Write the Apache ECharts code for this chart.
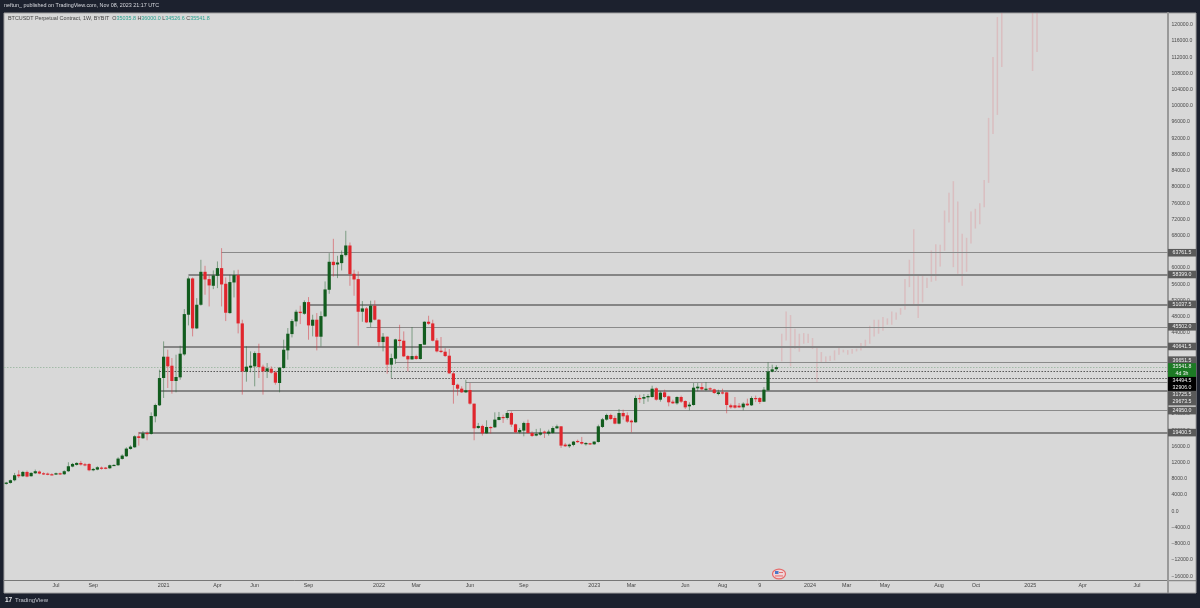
<!DOCTYPE html>
<html>
<head>
<meta charset="utf-8">
<style>html,body{margin:0;padding:0;background:#1c212e}#c{width:1200px;height:608px}</style>
<script src="https://cdn.jsdelivr.net/npm/echarts@6/dist/echarts.min.js"></script>
</head>
<body>
<div id="c"></div>
<script>
const openPrices = [
6750,6990,7650,9050,8640,9700,8640,9370,9790,9370,
9290,9130,9050,9370,9130,9870,11020,11430,11920,11590,
11670,10110,10280,10770,10770,10610,11260,11350,12910,13560,
15370,15780,18490,18000,19310,19070,23420,26130,32860,38120,
35900,32120,33030,38690,48470,57420,45100,50930,59060,57260,
55610,58080,59970,56110,48880,56430,58240,46330,34420,35410,
35740,39020,35660,34510,35160,34260,31630,35330,39680,43700,
46830,49210,48710,51590,45760,47240,43050,48060,54630,61530,
60870,61200,63170,65550,58570,57260,49210,50030,46580,50690,
47240,41730,43050,36150,37630,42310,42060,38280,37460,38280,
37550,41080,46740,46330,42140,39600,39350,38370,34010,31220,
30240,29330,29910,26540,20540,21040,19230,20790,20710,22520,
23250,23010,24240,21450,19480,19890,21780,19310,18660,18900,
19640,19150,19310,20460,20950,16440,16030,16360,17340,17090,
16520,16770,16520,17090,20790,22600,23750,23010,21610,24240,
23660,22350,21940,27930,27770,28100,28180,30320,27520,29330,
28340,27030,26620,28180,27190,25880,26210,30320,30640,29990,
30320,30070,28920,29330,29330,26130,26130,26040,25630,26540,
26130,27930,27930,27030,29820,34420,35035.8];
const highPrices = [
7240,7810,9460,10110,9950,10030,9620,10280,10030,9620,
9540,9370,9540,9540,10110,12080,11920,12080,12410,11920,
11840,10690,11100,11020,10930,11510,11590,13320,14060,15780,
16270,18740,19560,19800,19720,24400,26540,34920,41900,39840,
37790,38610,40830,49860,57910,57670,52570,62020,60540,58320,
59390,61610,64890,57670,58320,59390,59560,47240,40670,39430,
39430,41320,36150,36560,35740,34670,35570,42310,45180,47400,
49700,50690,52000,52820,48470,48880,49290,56680,63660,67190,
63010,64320,69170,66290,59560,59150,51840,50360,51920,52000,
47400,43950,43130,38860,42550,46000,44360,38530,45430,38610,
41240,46830,48220,47240,42720,42970,40260,40010,34510,31470,
30810,32450,31630,26540,21780,21370,22430,20950,24400,24490,
23830,24650,24650,21610,20540,22100,22600,19720,20300,20460,
19890,20130,20950,21370,20950,16850,16680,17340,17670,18330,
17010,16850,17260,21360,23010,24070,24070,23580,25220,25060,
24400,22600,28510,28760,28920,28920,30970,30560,29580,29990,
28510,27520,28340,28510,27360,26870,31630,31630,31630,31880,
30560,30230,29990,30230,29410,26540,28180,26700,26870,27770,
28340,28510,28180,30640,36720,36150,36000];
const lowPrices = [
6580,6830,7400,8220,8470,8390,8550,9210,9130,8960,
8880,8880,8960,8960,8960,9700,10850,11260,11260,11100,
9870,9870,10110,10280,10360,10440,11180,11180,12740,13400,
15210,15620,16190,17830,17510,18900,21940,25960,27940,30400,
29000,29330,32450,38370,45840,43130,44940,50690,53400,50520,
54790,55040,50520,46910,48710,52740,43870,28760,31960,34260,
30810,32860,28760,32860,33930,31220,29330,35160,37380,42880,
45590,46170,48470,42310,43130,39680,40670,47890,53640,57910,
57500,59390,62840,55610,53150,40830,46740,46420,45430,47070,
40670,39430,33930,32860,36310,40670,38040,34510,37380,37380,
37380,41080,46000,41900,39190,39020,38040,33930,26540,28510,
29170,29170,26290,17510,20300,18660,19150,19150,20540,22430,
21780,22600,20790,19310,19150,18490,19150,18330,18490,18660,
18080,18660,19150,20300,15620,15860,15620,16030,16850,16440,
16190,16360,16360,16930,20540,22350,22510,21450,21450,22600,
21770,19470,21860,26700,26460,27030,28020,27280,27030,27930,
25880,26460,26290,26700,25220,24890,26040,29580,29820,29660,
29740,28920,28590,28840,24160,25310,25310,25470,24890,25960,
25960,26950,26460,26950,29740,34260,34526.6];
const closePrices = [
7070,7650,8880,8640,9700,8550,9460,9870,9290,9130,
9050,8960,9370,9130,9870,11100,11670,11920,11510,11430,
10110,10440,10850,10520,10610,11350,11430,12990,13730,15450,
15940,18490,18080,19230,19070,23500,26210,32860,38120,35740,
32120,33110,38860,48630,57420,45100,50930,59060,57170,55700,
58160,59970,55940,48960,56520,58240,46330,34510,35660,35900,
39020,35570,34510,35250,34180,31710,35410,39840,43790,46910,
49210,48880,51590,45840,47240,43050,48140,54710,61530,60710,
61360,63250,65550,58490,57170,49210,50030,46580,50690,47240,
41730,43050,36150,37790,42390,41980,38200,37460,38280,37550,
41240,46740,46250,42060,39430,39270,38280,34010,31140,30240,
29330,29820,26540,20460,21040,19230,20790,20540,22600,23250,
23010,24240,21370,19480,20050,21780,19310,18570,19070,19390,
19390,19640,20540,20950,16190,16030,16440,17180,17090,16680,
16850,16520,17180,20950,22680,23750,22760,21610,24240,23420,
22100,21940,27930,27690,28180,28430,30230,27520,29250,28180,
26870,26620,28180,27030,25630,26290,30480,30730,30070,30230,
30070,29170,29330,29080,26210,25630,25550,25630,26540,26130,
27930,27770,26950,29990,34500,35000,35541.8];

// Projected (ghost) bars after the live candles; the ones above the visible range stay null.
const ghostLow = [
36970,42140,35740,40090,39350,41320,41490,40010,31630,36560,
36560,37050,37220,38610,39190,38610,38860,39430,39680,40500,
41320,43130,43790,44530,46000,46000,47240,48470,49700,55290,
51100,47650,51510,55040,56600,56850,60380,64240,71220,60210,
58570,55610,59060,66040,69740,70810,75000,80990,93070,97750,
109570,null,null,null,null,null,null,108590,113270];
const ghostHigh = [
43790,49290,48390,45020,43790,43950,43790,42720,40670,39270,
38200,38370,39680,40670,39840,39760,40010,40090,41490,42310,
45760,47240,47240,47890,47570,49290,49040,50110,57260,62020,
69580,58320,58320,57590,64320,65880,65720,74180,78530,81410,
76390,68430,67440,73930,74590,75980,81730,97010,112040,121890,
135000,null,null,null,null,null,null,135000,130000];
const ghostFirstWeek = 187.3;
const ghostWeekStep = 1.063;

const xTickWeeks  = [12,21,38,51,60,73,90,99,112,125,142,151,164,173,182,194.1,203,212.2,225.3,234.2,247.3,260,273.1];
const xTickLabels = ['Jul','Sep','2021','Apr','Jun','Sep','2022','Mar','Jun','Sep','2023','Mar','Jun','Aug','9','2024','Mar','May','Aug','Oct','2025','Apr','Jul'];
const yTicks = [-16000,-12000,-8000,-4000,0,4000,8000,12000,16000,20000,24000,28000,32000,36000,40000,44000,48000,52000,56000,60000,64000,68000,72000,76000,80000,84000,88000,92000,96000,100000,104000,108000,112000,116000,120000];

const X_MIN = -0.556, X_MAX = 280.6, Y_MIN = -16954, Y_MAX = 122890;

// Horizontal levels: price and the week each one starts from.
const levelPrices = [63761.5,58399,51037.5,45502,40641.5,36651.5,35541.8,34494.5,32906,31725.5,29673.5,24950,19400.5];
const levelStart  = [52,44,73,87,38,94,X_MIN,37,93,111,37,121,32];
const levelTexts  = ['63761.5','58399.0','51037.5','45502.0','40641.5','36651.5','35541.8\n4d 3h','34494.5','32906.0','31725.5','29673.5','24950.0','19400.5'];
const levelKinds  = ['thin','thick','thick','thin','thick','thin','price','dot','dot','thin','thick','thin','thick'];
const tagShift    = [0,0,0,0,0,-2.5,3,9.3,9.8,12,10.7,0.5,0];

const UP = '#125c1e', DOWN = '#e0262d', UP_W = 'rgba(35,100,50,0.5)', DOWN_W = 'rgba(215,50,60,0.5)';
const FONT = 'Liberation Sans';

const candleData = openPrices.map((o, i) => [i, o, highPrices[i], lowPrices[i], closePrices[i]]);
const ghostData = ghostLow.map((l, k) => [ghostFirstWeek + ghostWeekStep * k, l, ghostHigh[k]]).filter(d => d[1] !== null);

const lineStyles = {
  thick: {color:'#858585', width:2, type:'solid'},
  thin:  {color:'#8a8a8a', width:1.2, type:'solid'},
  dot:   {color:'#555555', width:1, type:[1.5,1.5]},
  price: {color:'#a3bba8', width:1, type:[1.5,1.5]}
};
const tagColor = i => levelKinds[i] === 'price' ? '#1c7a24' : (levelKinds[i] === 'dot' ? '#000000' : '#5a5a5a');

const levelLines = levelPrices.map((p, i) => [{
  coord:[levelStart[i], p],
  lineStyle: lineStyles[levelKinds[i]],
  label:{show:true, position:'end', distance:0, formatter:levelTexts[i], color:'#f2f2f2', backgroundColor:tagColor(i),
         fontFamily:FONT, fontSize:5.2, lineHeight:6.4, width:24, align:'center', padding:[0.6,2,0.6,2], offset:[14,tagShift[i]]}
},{coord:[X_MAX, p]}]);

const option = {
  animation:false,
  backgroundColor:'#1c212e',
  title:[
    {text:'neftun_ published on TradingView.com, Nov 08, 2023 21:17 UTC', left:4, top:3, padding:0,
     textStyle:{color:'#d9dbe0', fontFamily:FONT, fontSize:5.4, fontWeight:'normal'}},
    {text:'BTCUSDT Perpetual Contract, 1W, BYBIT  O{v|35035.8} H{v|36000.0} L{v|34526.6} C{v|35541.8}', left:8, top:16, padding:0,
     textStyle:{color:'#444444', fontFamily:FONT, fontSize:5.4, fontWeight:'normal',
                rich:{v:{color:'#2aa391', fontFamily:FONT, fontSize:5.4}}}},
    {text:'TradingView', left:15, top:597, padding:0,
     textStyle:{color:'#c5c8d0', fontFamily:FONT, fontSize:6, fontWeight:'normal'}},
    {text:'17', left:5, top:597, padding:0,
     textStyle:{color:'#e8e9ec', fontFamily:FONT, fontSize:6.5, fontWeight:'bold'}}
  ],
  graphic:{elements:[
    {type:'rect', z:-10, silent:true, shape:{x:4,y:13,width:1192,height:580}, style:{fill:'#d8d8d8', stroke:'#a0a0a0', lineWidth:1}},
    {type:'line', z:1, silent:true, shape:{x1:1168,y1:580.7,x2:1196,y2:580.7}, style:{stroke:'#777777', lineWidth:1}},
    {type:'line', z:1, silent:true, shape:{x1:1168,y1:580,x2:1168,y2:593}, style:{stroke:'#999999', lineWidth:2}},
    {type:'group', z:20, silent:true, children:[
      {type:'ellipse', shape:{cx:779,cy:574,rx:6.5,ry:4.8}, style:{fill:'#f0d5d8', stroke:'#e66a6a', lineWidth:1.2}},
      {type:'rect', shape:{x:775,y:571,width:3.5,height:3}, style:{fill:'#4a78c8'}},
      {type:'rect', shape:{x:779,y:572,width:4,height:0.9}, style:{fill:'#e06060'}},
      {type:'rect', shape:{x:775,y:575.5,width:8,height:0.9}, style:{fill:'#e06060'}}
    ]}
  ]},
  grid:{left:4, right:32, top:13, bottom:28, containLabel:false},
  xAxis:{
    type:'value', min:X_MIN, max:X_MAX, splitLine:{show:false},
    axisLine:{show:true, onZero:false, lineStyle:{color:'#777777', width:1}},
    axisTick:{show:false},
    axisLabel:{customValues:xTickWeeks, margin:3, color:'#444444', fontFamily:FONT, fontSize:5.4,
      formatter:v => { const i = xTickWeeks.indexOf(v); return i < 0 ? '' : xTickLabels[i]; }}
  },
  yAxis:{
    type:'value', position:'right', min:Y_MIN, max:Y_MAX, splitLine:{show:false},
    axisLine:{show:true, onZero:false, lineStyle:{color:'#999999', width:2}},
    axisTick:{show:false},
    axisLabel:{customValues:yTicks, margin:3.5, color:'#4a4a4a', fontFamily:FONT, fontSize:5.1,
      formatter:v => (v < 0 ? '\u2212' + (-v).toFixed(1) : v.toFixed(1))}
  },
  series:[
    {
      type:'custom', name:'Projection', clip:true, silent:true, z:2,
      data:ghostData, encode:{x:0, y:[1,2]},
      renderItem:(p, api) => {
        const a = api.coord([api.value(0), api.value(1)]);
        const b = api.coord([api.value(0), api.value(2)]);
        return {type:'line', shape:{x1:a[0],y1:a[1],x2:b[0],y2:b[1]},
                style:{stroke:'rgba(226,110,115,0.24)', lineWidth:1.5}};
      }
    },
    {
      type:'line', name:'Levels', data:[], silent:true, z:3, showSymbol:false,
      markLine:{silent:true, symbol:'none', animation:false, data:levelLines, z:3}
    },
    {
      type:'custom', name:'BTCUSDT', clip:true, silent:true, z:4,
      data:candleData, encode:{x:0, y:[1,2,3,4]},
      renderItem:(p, api) => {
        const w = api.value(0), o = api.value(1), h = api.value(2), l = api.value(3), c = api.value(4);
        const x = api.coord([w, o])[0];
        const yo = api.coord([w, o])[1], yc = api.coord([w, c])[1], yh = api.coord([w, h])[1], yl = api.coord([w, l])[1];
        const up = c >= o;
        const top = Math.min(yo, yc), hgt = Math.max(Math.abs(yo - yc), 1.2);
        return {type:'group', children:[
          {type:'line', shape:{x1:x,y1:yh,x2:x,y2:yl}, style:{stroke:up?UP_W:DOWN_W, lineWidth:1}},
          {type:'rect', shape:{x:x-1.6,y:top,width:3.2,height:hgt}, style:{fill:up?UP:DOWN}}
        ]};
      }
    }
  ]
};
const chart = echarts.init(document.getElementById('c'), null, {renderer:'canvas'});
chart.setOption(option);
</script>
</body>
</html>
